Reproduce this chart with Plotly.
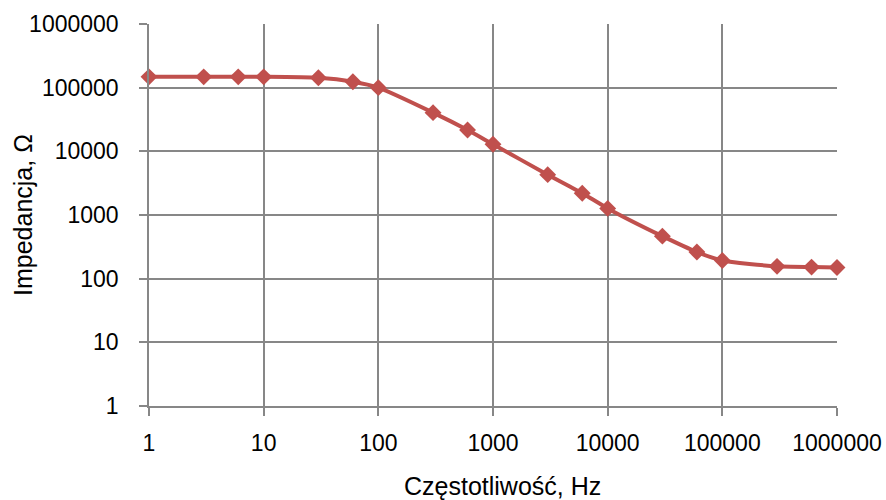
import plotly.graph_objects as go

freq_hz = [1, 3, 6, 10, 30, 60, 100, 300, 600, 1000, 3000, 6000, 10000,
           30000, 60000, 100000, 300000, 600000, 1000000]
impedance_ohm = [148000, 148000, 148000, 148000, 143000, 124000, 100000, 40500, 21600,
                 12900, 4300, 2200, 1270, 465, 262, 193, 156, 152, 150]
tick_vals = [1, 10, 100, 1000, 10000, 100000, 1000000]
tick_text = ["1", "10", "100", "1000", "10000", "100000", "1000000"]
x_title = "Częstotliwość, Hz"
y_title = "Impedancja, Ω"

color = "#C0504D"
grid = "#878787"
font_family = "Liberation Sans, Arial, sans-serif"

fig = go.Figure()
fig.add_trace(go.Scatter(
    x=freq_hz, y=impedance_ohm, mode="lines+markers",
    line=dict(color=color, width=4, shape="spline", smoothing=0.6),
    marker=dict(symbol="diamond", size=13, color=color),
    showlegend=False, cliponaxis=False,
))

fig.update_layout(
    width=886, height=500,
    margin=dict(l=149, r=49, t=24, b=94),
    paper_bgcolor="white", plot_bgcolor="white",
    font=dict(family=font_family, color="#000000"),
    xaxis=dict(
        type="log", range=[0, 6], tickvals=tick_vals, ticktext=tick_text,
        showgrid=True, gridcolor=grid, gridwidth=1.5,
        showline=True, linecolor=grid, linewidth=1.5,
        ticks="outside", ticklen=8, tickcolor=grid, tickwidth=1.5,
        tickfont=dict(size=23), ticklabelstandoff=8, zeroline=False,
        automargin=False,
    ),
    yaxis=dict(
        type="log", range=[0, 6], tickvals=tick_vals, ticktext=tick_text,
        showgrid=True, gridcolor=grid, gridwidth=1.5,
        showline=True, linecolor=grid, linewidth=1.5,
        ticks="outside", ticklen=8, tickcolor=grid, tickwidth=1.5,
        tickfont=dict(size=23), ticklabelstandoff=16, zeroline=False,
        automargin=False,
    ),
    annotations=[
        dict(text=x_title, xref="paper", yref="paper", x=0.5, y=0,
             xanchor="center", yanchor="middle", xshift=9, yshift=-80,
             showarrow=False, font=dict(size=25, family=font_family)),
        dict(text=y_title, xref="paper", yref="paper", x=0, y=0.5,
             xanchor="center", yanchor="middle", xshift=-126, yshift=0,
             textangle=-90, showarrow=False, font=dict(size=25, family=font_family)),
    ],
)

fig.write_html(
    "out.html",
    config={"displayModeBar": False},
    post_script="document.body.style.margin='0';document.body.style.overflow='hidden';",
)
